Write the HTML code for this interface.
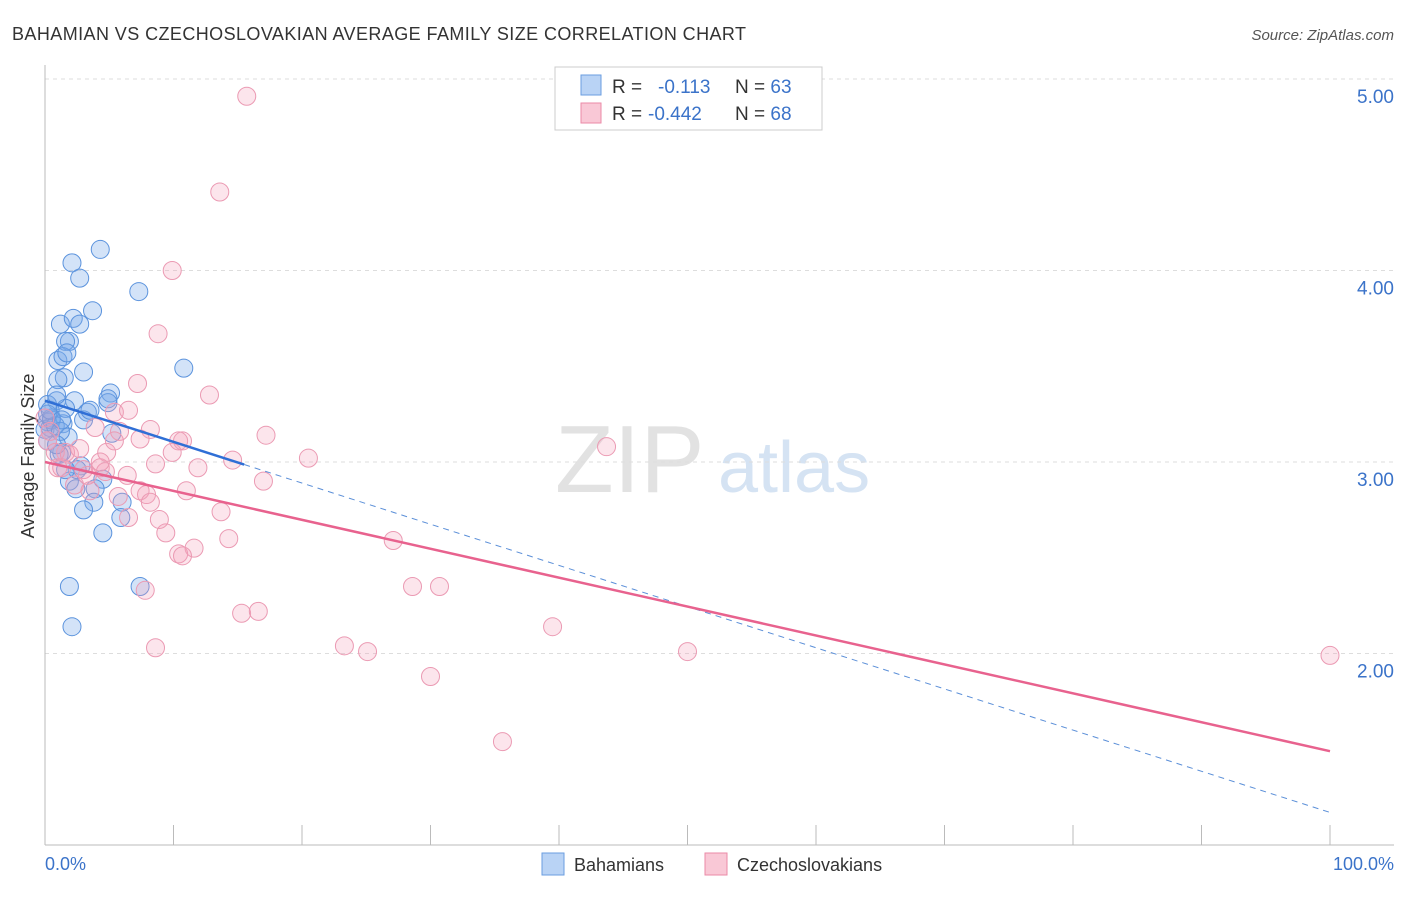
<!DOCTYPE html>
<html><head><meta charset="utf-8"><style>
body{margin:0;background:#fff;font-family:"Liberation Sans",sans-serif;}
svg text{font-family:"Liberation Sans",sans-serif;}
</style></head><body>
<svg id="c" width="1406" height="892" xmlns="http://www.w3.org/2000/svg">
<text x="12" y="40" font-size="18" fill="#333" textLength="734" lengthAdjust="spacing">BAHAMIAN VS CZECHOSLOVAKIAN AVERAGE FAMILY SIZE CORRELATION CHART</text>
<text x="1394" y="40" font-size="15" fill="#555" font-style="italic" text-anchor="end">Source: ZipAtlas.com</text>
<text x="34" y="456" font-size="18" fill="#333" text-anchor="middle" transform="rotate(-90 34 456)">Average Family Size</text>
<text x="555" y="492" font-size="96" fill="#e2e2e2" font-family="Liberation Serif">ZIP</text>
<text x="718" y="492" font-size="72" fill="#d5e3f3">atlas</text>
<g id="grid"></g><g id="pts"></g><g id="lines"></g>
<g>
<rect x="555" y="67" width="267" height="63" fill="#fff" stroke="#ccc"/>
<rect x="581" y="75" width="20" height="20" fill="#b9d3f5" stroke="#6a9ee0"/>
<text x="612" y="93" font-size="19" fill="#333">R = <tspan x="658" fill="#3b73c9">-0.113</tspan><tspan x="735" fill="#333">N = </tspan><tspan fill="#3b73c9">63</tspan></text>
<rect x="581" y="103" width="20" height="20" fill="#f9c8d6" stroke="#eb8aa7"/>
<text x="612" y="120" font-size="19" fill="#333">R = <tspan x="648" fill="#3b73c9">-0.442</tspan><tspan x="735" fill="#333">N = </tspan><tspan fill="#3b73c9">68</tspan></text>
</g>
<text x="45" y="870" font-size="18" fill="#3b73c9">0.0%</text>
<text x="1394" y="870" font-size="18" fill="#3b73c9" text-anchor="end">100.0%</text>
<rect x="542" y="853" width="22" height="22" fill="#b9d3f5" stroke="#6a9ee0"/>
<text x="574" y="871" font-size="18" fill="#333">Bahamians</text>
<rect x="705" y="853" width="22" height="22" fill="#f9c8d6" stroke="#eb8aa7"/>
<text x="737" y="871" font-size="18" fill="#333">Czechoslovakians</text>
</svg>
<script>
const yTicks=[2,3,4,5];
const yTickLabels=["2.00","3.00","4.00","5.00"];
const blueX=[4.3,2.1,2.7,7.3,3.7,1.2,2.2,2.7,1.9,1.6,1.0,1.4,1.7,10.8,3.0,1.5,1.0,5.1,4.9,2.3,0.9,0.2,3.3,3.0,1.4,0.5,0.2,0.4,0,5.2,1.8,1.3,1.1,2.8,4.5,1.9,2.4,3.9,6.0,3.8,3.0,5.9,4.5,1.9,7.4,2.1,0.5,0.8,0.2,1.2,4.9,0.4,1.6,0.9,2.5,1.6,0.2,1.3,3.5,0.9];
const blueY=[4.11,4.04,3.96,3.89,3.79,3.72,3.75,3.72,3.63,3.63,3.53,3.55,3.57,3.49,3.47,3.44,3.43,3.36,3.31,3.32,3.32,3.30,3.26,3.22,3.20,3.23,3.21,3.18,3.17,3.15,3.13,3.05,3.04,2.98,2.91,2.90,2.86,2.86,2.79,2.79,2.75,2.71,2.63,2.35,2.35,2.14,3.22,3.19,3.25,3.16,3.33,3.27,3.28,3.35,2.96,2.96,3.11,3.22,3.27,3.09];
const pinkX=[15.7,13.6,9.9,8.8,12.8,7.2,5.4,10.7,17.2,8.2,10.4,20.5,14.6,43.7,7.4,3.9,5.8,4.8,8.6,9.9,11.9,3.0,4.3,6.4,1.6,0.8,0.2,1.0,1.9,17.0,11.0,7.4,7.9,8.2,5.7,13.7,3.5,2.3,6.5,9.4,14.3,27.1,11.6,10.4,10.7,28.6,30.7,7.8,15.3,16.6,39.5,8.6,23.3,25.1,50.0,30.0,35.6,100,0.4,0,4.7,3.3,1.3,5.4,2.7,6.5,4.3,8.9];
const pinkY=[4.91,4.41,4.00,3.67,3.35,3.41,3.26,3.11,3.14,3.17,3.11,3.02,3.01,3.08,3.12,3.18,3.16,3.05,2.99,3.05,2.97,2.96,2.97,2.93,3.05,3.05,3.11,2.97,3.04,2.90,2.85,2.85,2.83,2.79,2.82,2.74,2.85,2.88,2.71,2.63,2.60,2.59,2.55,2.52,2.51,2.35,2.35,2.33,2.21,2.22,2.14,2.03,2.04,2.01,2.01,1.88,1.54,1.99,3.16,3.23,2.95,2.93,2.97,3.11,3.07,3.27,3.00,2.70];
const blueTrend=[3.32,1.17];
const pinkTrend=[3.00,1.49];
const NS="http://www.w3.org/2000/svg";
const X=v=>45+v*12.85;
const Y=v=>462-(v-3)*191.5;
function mk(t,a,p){const e=document.createElementNS(NS,t);for(const k in a)e.setAttribute(k,a[k]);p.appendChild(e);return e;}
const g=document.getElementById('grid');
yTicks.forEach((t,i)=>{
 const l=mk('line',{x1:45,x2:1394,y1:Y(t),y2:Y(t),stroke:'#ddd','stroke-dasharray':'4 4'},g);
 
 
 const tx=mk('text',{x:1394,y:Y(t)+24,'font-size':19,fill:'#3b73c9','text-anchor':'end'},g);
 tx.textContent=yTickLabels[i];
 
 
});
const ax=mk('line',{x1:45,x2:45,y1:65,y2:845,stroke:'#bbb'},g);


const bx=mk('line',{x1:45,x2:1394,y1:845,y2:845,stroke:'#bbb'},g);


for(let i=0;i<=10;i++){const t=mk('line',{x1:X(i*10),x2:X(i*10),y1:825,y2:845,stroke:'#bbb'},g);
 
 }
const p=document.getElementById('pts');
blueX.forEach((v,i)=>{const c=mk('circle',{cx:X(v),cy:Y(blueY[i]),r:9,fill:'rgba(120,170,235,0.33)',stroke:'#5b93dd','stroke-width':1},p);
 
 });
pinkX.forEach((v,i)=>{const c=mk('circle',{cx:X(v),cy:Y(pinkY[i]),r:9,fill:'rgba(245,160,185,0.28)',stroke:'#eb9ab3','stroke-width':1},p);
 
 });
const L=document.getElementById('lines');
const bAt=x=>blueTrend[0]+(blueTrend[1]-blueTrend[0])*x/100;
const b1=mk('line',{x1:X(0),y1:Y(bAt(0)),x2:X(15.5),y2:Y(bAt(15.5)),stroke:'#2f6fd6','stroke-width':2.5},L);


const b2=mk('line',{x1:X(15.5),y1:Y(bAt(15.5)),x2:X(100),y2:Y(bAt(100)),stroke:'#5b8fd8','stroke-width':1,'stroke-dasharray':'6 5'},L);


const pl=mk('line',{x1:X(0),y1:Y(pinkTrend[0]),x2:X(100),y2:Y(pinkTrend[1]),stroke:'#e8628e','stroke-width':2.5},L);


</script>
</body></html>
